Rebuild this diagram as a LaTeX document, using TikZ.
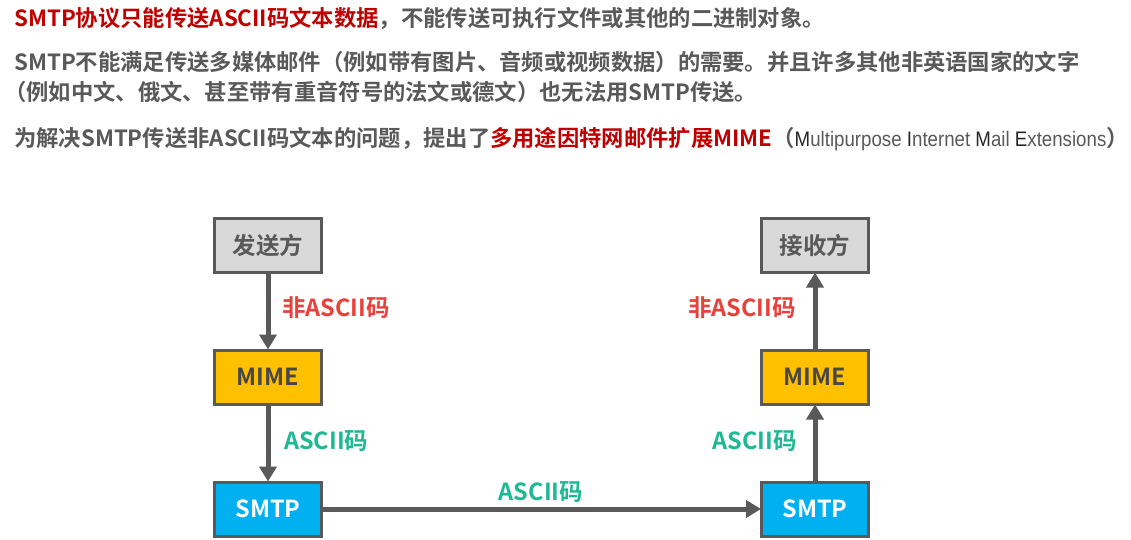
\documentclass[tikz,border=0pt]{standalone}
\usepackage{fontspec}
\setmainfont{Noto Sans CJK SC}[BoldFont={Noto Sans CJK SC Bold}]
\newfontfamily\engfont{Liberation Sans}[FakeStretch=0.89]
\usetikzlibrary{arrows.meta}
\definecolor{txtgray}{HTML}{595959}
\definecolor{txtred}{HTML}{C00000}
\definecolor{lblred}{HTML}{E8413C}
\definecolor{lblgreen}{HTML}{1DB994}
\definecolor{boxgray}{HTML}{D9D9D9}
\definecolor{boxyellow}{HTML}{FFC000}
\definecolor{boxblue}{HTML}{00B0F0}
\definecolor{edgegray}{HTML}{595959}
\tikzset{
  para/.style={anchor=west, inner sep=0pt, font=\fontsize{22.3}{26}\selectfont\bfseries, text=txtgray},
  blk/.style={draw=edgegray, line width=3pt, minimum width=107pt, minimum height=54pt, inner sep=0pt, font=\fontsize{23.5}{26}\selectfont\bfseries},
  conn/.style={draw=edgegray, line width=5pt, -{Triangle[length=15pt,width=17pt]}, shorten >=-1pt},
  lbl/.style={inner sep=0pt, font=\fontsize{23.5}{26}\selectfont\bfseries}
}
\begin{document}
\begin{tikzpicture}[x=1pt,y=-1pt]
\useasboundingbox[fill=white] (0,0) rectangle (1131,540);
% text paragraphs
\node[para] (l1) at (14,18) {\textcolor{txtred}{SMTP协议只能传送ASCII码文本数据}，不能传送可执行文件或其他的二进制对象。};
\node[para] (l2) at (14,62) {SMTP不能满足传送多媒体邮件（例如带有图片、音频或视频数据）的需要。并且许多其他非英语国家的文字};
\node[para] (l3) at (4,92) {（例如中文、俄文、甚至带有重音符号的法文或德文）也无法用SMTP传送。};
\node[para] (l4) at (14,139) {为解决SMTP传送非ASCII码文本的问题，提出了\textcolor{txtred}{多用途因特网邮件扩展MIME}（{\engfont\mdseries\fontsize{21}{24}\selectfont\textcolor{black!85}{M}ultipurpose \textcolor{black!85}{I}nternet \textcolor{black!85}{M}ail \textcolor{black!85}{E}xtensions}\makebox[0.45em][l]{）}};
% boxes
\node[blk, fill=boxgray, text=txtgray] (send) at (268,245) {发送方};
\node[blk, fill=boxyellow, text=txtgray!80!black] (mimeL) at (268,377) {MIME};
\node[blk, fill=boxblue, text=white] (smtpL) at (268,509) {SMTP};
\node[blk, fill=boxgray, text=txtgray] (recv) at (815,245) {接收方};
\node[blk, fill=boxyellow, text=txtgray!80!black] (mimeR) at (815,377) {MIME};
\node[blk, fill=boxblue, text=white] (smtpR) at (815,509) {SMTP};
% connectors
\draw[conn] (send.south) -- (mimeL.north);
\draw[conn] (mimeL.south) -- (smtpL.north);
\draw[conn] (smtpL.east) -- (smtpR.west);
\draw[conn] (smtpR.north) -- (mimeR.south);
\draw[conn] (mimeR.north) -- (recv.south);
% labels
\node[lbl, text=lblred, anchor=west] (la) at (282,308) {非ASCII码};
\node[lbl, text=lblgreen, anchor=west] (lb) at (284,441) {ASCII码};
\node[lbl, text=lblgreen] (lc) at (541,492) {ASCII码};
\node[lbl, text=lblred, anchor=east] (ld) at (796,308) {非ASCII码};
\node[lbl, text=lblgreen, anchor=east] (le) at (797,441) {ASCII码};
\end{tikzpicture}
\end{document}
